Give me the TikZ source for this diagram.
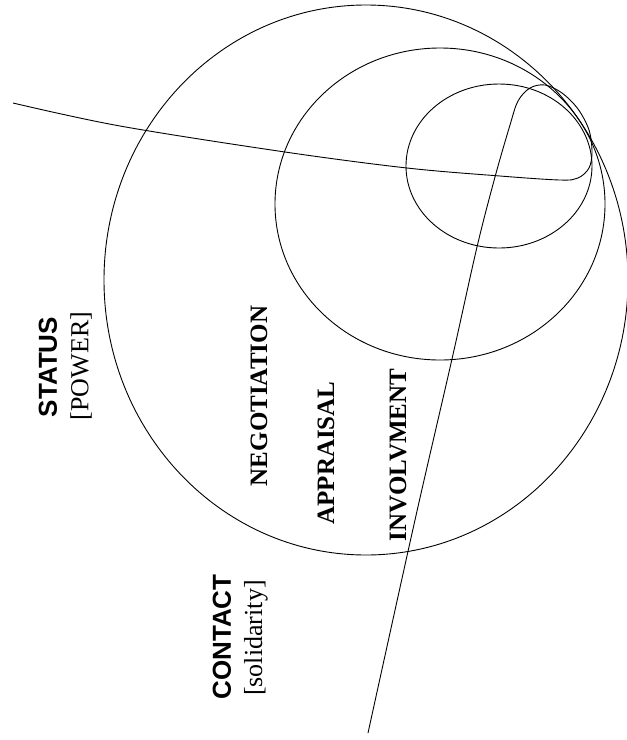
\documentclass[tikz,border=0pt]{standalone}
\usepackage{fontspec}
\setmainfont{Liberation Serif}
\setsansfont{Liberation Sans}
\begin{document}
\begin{tikzpicture}[x=1pt,y=1pt,
  curve/.style={line width=0.9pt},
  vlbl/.style={rotate=90, inner sep=0pt, anchor=center},
  headlbl/.style={vlbl, font=\sffamily\bfseries\fontsize{26}{30}\selectfont},
  sublbl/.style={vlbl, font=\rmfamily\fontsize{26}{30}\selectfont},
  ringlbl/.style={vlbl, font=\rmfamily\bfseries\fontsize{25}{30}\selectfont}]
\useasboundingbox (0,0) rectangle (627,-740);
% ellipses
\draw[curve] (366,-280) ellipse [x radius=262, y radius=275];
\draw[curve] (440,-204) ellipse [x radius=165, y radius=156];
\draw[curve] (499,-166) ellipse [x radius=93, y radius=82];
% the looping line
\draw[curve] plot[smooth, tension=0.55] coordinates {
  (13,-103) (120,-126) (285,-152) (407,-168) (500,-176) (560,-180)
  (578,-178) (589,-168) (592,-152) (589,-130) (578,-109) (562,-93)
  (545,-85) (530,-88) (518,-101) (510,-125) (495,-177) (477,-247)
  (452,-359) (415,-520) (368,-733)};
% labels
\node[headlbl] (status) at (48,-367) {STATUS};
\node[sublbl] (power) at (81,-366) {[POWER]};
\node[headlbl] (contact) at (222,-637) {CONTACT};
\node[sublbl] (solid) at (256,-638) {[solidarity]};
\node[ringlbl] (neg) at (259,-396) {NEGOTIATION};
\node[ringlbl] (appr) at (326,-453) {APPRAISAL};
\node[ringlbl] (inv) at (398,-455) {INVOLVMENT};
\end{tikzpicture}
\end{document}
